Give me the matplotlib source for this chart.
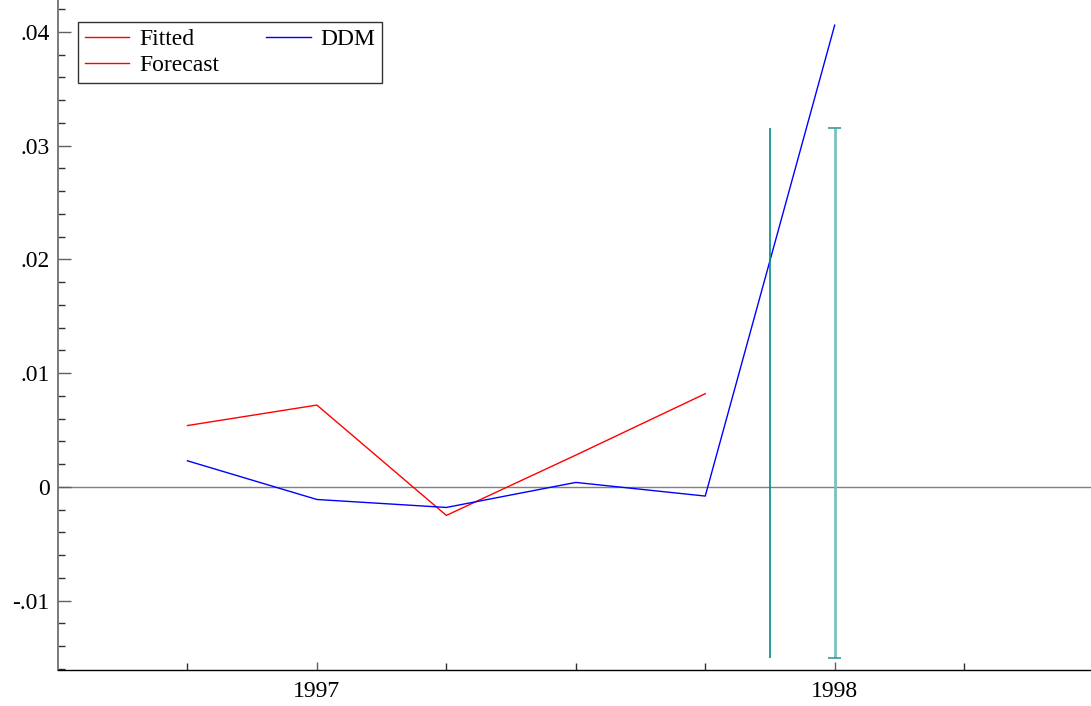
import matplotlib.pyplot as plt
from matplotlib.ticker import FixedLocator, MultipleLocator, FuncFormatter

plt.rcParams['font.family'] = ['Liberation Serif', 'DejaVu Serif']

# Données (trimestres en années décimales)
dates = [1996.75, 1997.0, 1997.25, 1997.5, 1997.75, 1998.0]
ddm = [0.0023, -0.0011, -0.0018, 0.0004, -0.0008, 0.0406]
fitted_dates = [1996.75, 1997.0, 1997.25, 1997.5, 1997.75]
fitted = [0.0054, 0.0072, -0.0025, 0.0028, 0.0082]
band_dates = [1997.875, 1998.0]
forecast = [0.0083, 0.0083]
forecast_se = [0.0233, 0.0233]

fig = plt.figure(figsize=(10.91, 7.06), dpi=100)
ax = fig.add_axes([58 / 1091, 36 / 706, 1 - 58 / 1091, 670 / 706])

ax.axhline(0, color='#808080', lw=1, zorder=1)

ax.plot(fitted_dates, fitted, color='red', lw=1, label='Fitted')
ax.plot([], [], color='red', lw=1, label='Forecast')
ax.plot(dates, ddm, color='blue', lw=1, label='DDM')

# Bande de prévision
lo = [f - s for f, s in zip(forecast, forecast_se)]
hi = [f + s for f, s in zip(forecast, forecast_se)]
ax.vlines(band_dates[0], lo[0], hi[0], color='#008b8b', lw=1.2)
ax.vlines(band_dates[1], lo[1], hi[1], color='#7fbfbf', lw=2)
ax.hlines([lo[1], hi[1]], band_dates[1] - 0.012, band_dates[1] + 0.012,
          color='#3a9a9a', lw=1.2)

ax.set_xlim(1996.5, 1998.495)
ax.set_ylim(-0.01609, 0.04281)

# Axes
ax.xaxis.set_major_locator(FixedLocator([1997.0, 1998.0]))
ax.xaxis.set_minor_locator(FixedLocator([1996.75, 1997.25, 1997.5, 1997.75,
                                         1998.25]))
ax.xaxis.set_major_formatter(FuncFormatter(lambda v, p: f'{v:.0f}'))
ax.yaxis.set_major_locator(MultipleLocator(0.01))
ax.yaxis.set_minor_locator(MultipleLocator(0.002))


def fmt(v, p):
    if abs(v) < 1e-9:
        return '0'
    s = f'{v:.2f}'
    return s.replace('0.', '.')


ax.yaxis.set_major_formatter(FuncFormatter(fmt))
ax.tick_params(axis='both', which='both', direction='in', labelsize=17)
ax.tick_params(axis='y', which='major', length=9, width=1, color='#606060', pad=6)
ax.tick_params(axis='y', which='minor', length=5, width=1, color='#303030')
ax.tick_params(axis='x', which='major', length=6, width=1, color='#606060', pad=8)
ax.tick_params(axis='x', which='minor', length=5, width=1, color='#303030')

ax.spines['top'].set_visible(False)
ax.spines['right'].set_visible(False)
ax.spines['left'].set_color('#707070')
ax.spines['left'].set_linewidth(1.3)
ax.spines['bottom'].set_linewidth(1)

leg = ax.legend(ncol=2, loc='upper left', bbox_to_anchor=(20 / 1033, 0.967),
                fontsize=17, frameon=True, fancybox=False, borderpad=0.28,
                handlelength=1.9, handletextpad=0.4, columnspacing=2.0,
                labelspacing=0.2, borderaxespad=0)
leg.get_frame().set_edgecolor('black')
leg.get_frame().set_linewidth(1)

plt.savefig('out.png', dpi=100)
plt.close()
